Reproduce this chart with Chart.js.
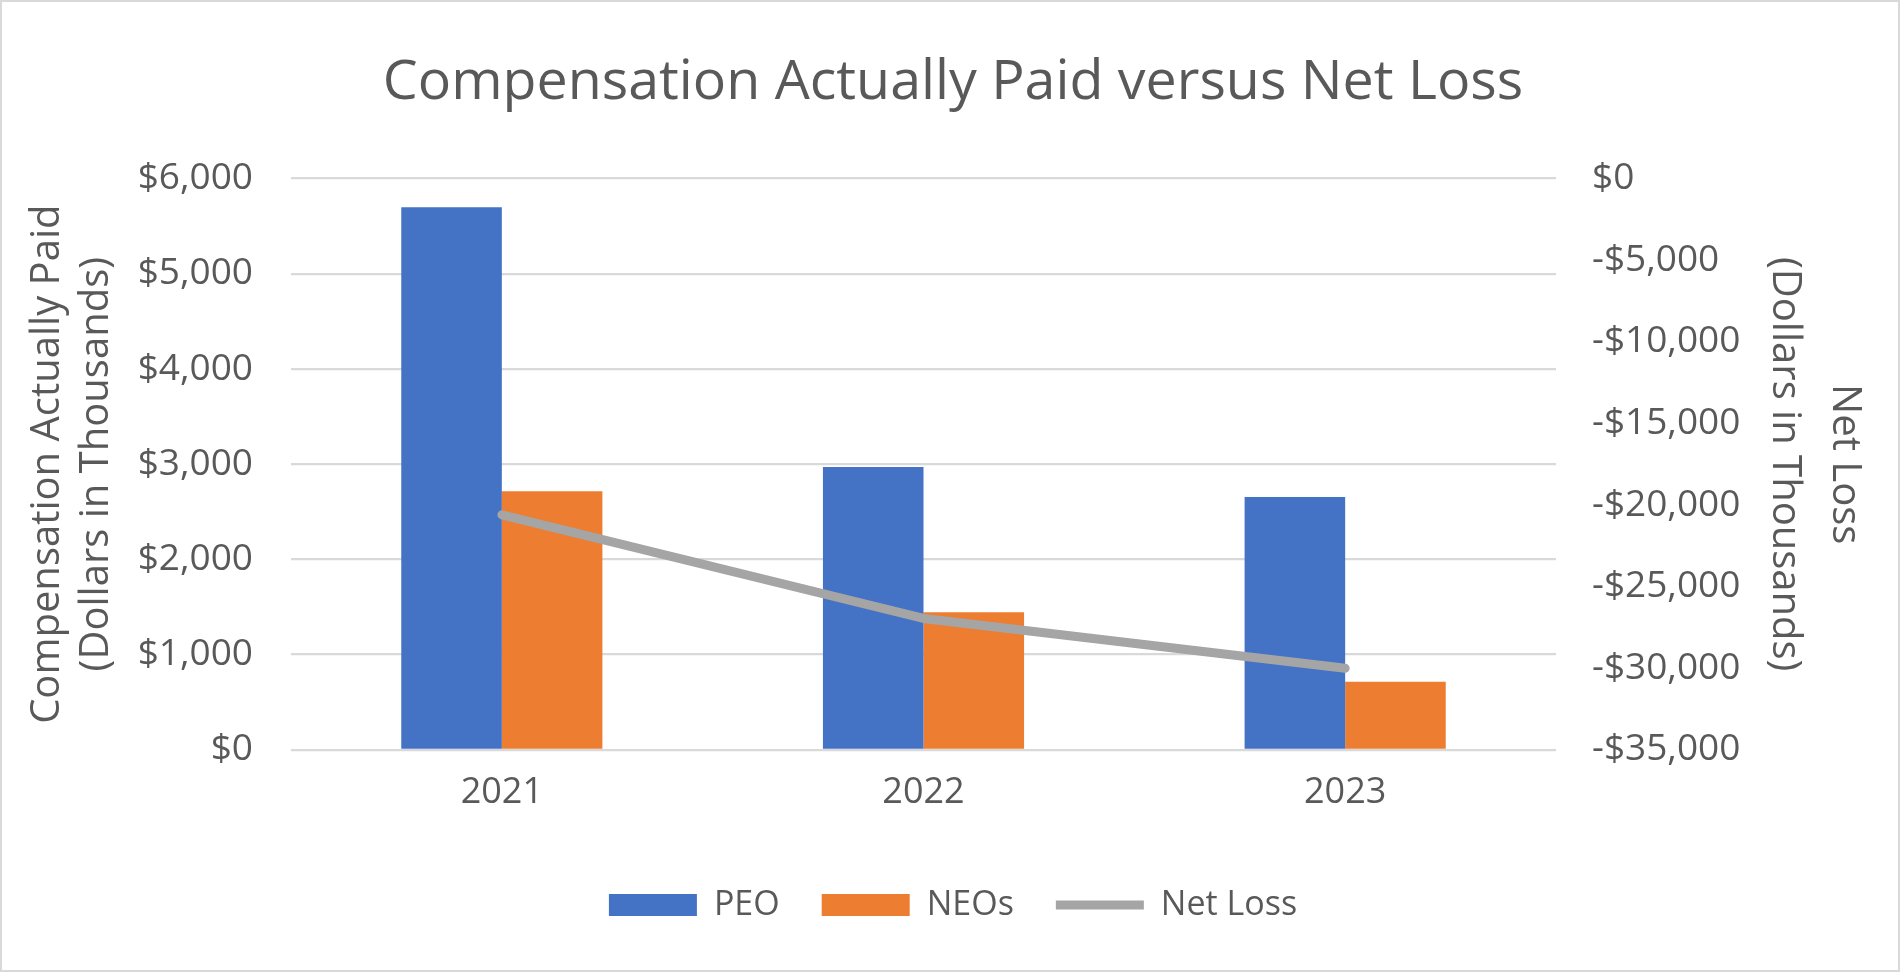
<!DOCTYPE html>
<html>
<head>
<meta charset="utf-8">
<script src="https://cdn.jsdelivr.net/npm/chart.js"></script>
<style>
  body { margin: 0; background: #fff; }
  #chart { display: block; outline: 2px solid #d9d9d9; outline-offset: -2px; }
</style>
</head>
<body>
<canvas id="chart" width="1900" height="972"></canvas>
<script>
// values (dollars in thousands)
const years = ['2021', '2022', '2023'];
const peoPaid = [5700, 2970, 2655];
const neoPaid = [2716, 1444, 715];
const netLoss = [-20600, -26950, -30000];

const textColor = '#595959';
const font = 'Open Sans';

const money = v => (v < 0 ? '-$' : '$') + Math.abs(v).toLocaleString('en-US');

const ctx = document.getElementById('chart').getContext('2d');
new Chart(ctx, {
    type: 'bar',
    data: {
        labels: years,
        datasets: [
            {
                label: 'PEO',
                data: peoPaid,
                backgroundColor: '#4472c4',
                yAxisID: 'y',
                order: 1
            },
            {
                label: 'NEOs',
                data: neoPaid,
                backgroundColor: '#ed7d31',
                yAxisID: 'y',
                order: 1
            },
            {
                type: 'line',
                label: 'Net Loss',
                data: netLoss,
                borderColor: '#a5a5a5',
                backgroundColor: '#a5a5a5',
                borderWidth: 9,
                borderCapStyle: 'round',
                borderJoinStyle: 'round',
                pointRadius: 0,
                tension: 0,
                yAxisID: 'y1',
                order: 0
            }
        ]
    },
    options: {
        responsive: false,
        animation: false,
        devicePixelRatio: 1,
        layout: { padding: { left: 6, right: 0, top: 0, bottom: 40 } },
        datasets: {
            bar: { categoryPercentage: 0.477, barPercentage: 1.0 }
        },
        plugins: {
            tooltip: { enabled: false },
            title: {
                display: true,
                text: 'Compensation Actually Paid versus Net Loss',
                color: textColor,
                font: { family: font, size: 55.5, weight: 'normal', lineHeight: 1.2 },
                padding: { top: 50, bottom: 62 }
            },
            legend: {
                position: 'bottom',
                labels: {
                    color: textColor,
                    font: { family: font, size: 34 },
                    usePointStyle: true,
                    pointStyleWidth: 88,
                    boxHeight: 22,
                    padding: 42,
                    sort: (a, b) => a.datasetIndex - b.datasetIndex,
                    generateLabels: chart => {
                        const items = Chart.defaults.plugins.legend.labels.generateLabels(chart);
                        items.forEach(it => {
                            const ds = chart.data.datasets[it.datasetIndex];
                            it.pointStyle = ds.type === 'line' ? 'line' : 'rect';
                            if (ds.type !== 'line') it.lineWidth = 0;
                        });
                        return items;
                    }
                }
            }
        },
        scales: {
            x: {
                grid: { display: false },
                border: { display: false },
                ticks: {
                    color: textColor,
                    font: { family: font, size: 36 },
                    padding: 13.5
                },
                afterFit: scale => { scale.height += 18; }
            },
            y: {
                position: 'left',
                min: 0,
                max: 6000,
                ticks: {
                    stepSize: 1000,
                    color: textColor,
                    font: { family: font, size: 37 },
                    padding: 38,
                    callback: v => money(v)
                },
                grid: { color: '#d9d9d9', lineWidth: 2.3, drawTicks: false },
                border: { display: false },
                title: {
                    display: true,
                    text: ['Compensation Actually Paid', '(Dollars in Thousands)'],
                    color: textColor,
                    font: { family: font, size: 40, lineHeight: 1.22 },
                    padding: { top: 17, bottom: 0 }
                },
                afterFit: scale => { scale.width = 285; }
            },
            y1: {
                position: 'right',
                min: -35000,
                max: 0,
                ticks: {
                    stepSize: 5000,
                    color: textColor,
                    font: { family: font, size: 37 },
                    padding: 36,
                    callback: v => money(v)
                },
                grid: { display: false, drawTicks: false },
                border: { display: false },
                title: {
                    display: true,
                    text: ['Net Loss', '(Dollars in Thousands)'],
                    color: textColor,
                    font: { family: font, size: 40, lineHeight: 1.5 },
                    padding: { top: 26, bottom: 0 }
                },
                afterFit: scale => { scale.width = 344; }
            }
        }
    }
});
</script>
</body>
</html>
